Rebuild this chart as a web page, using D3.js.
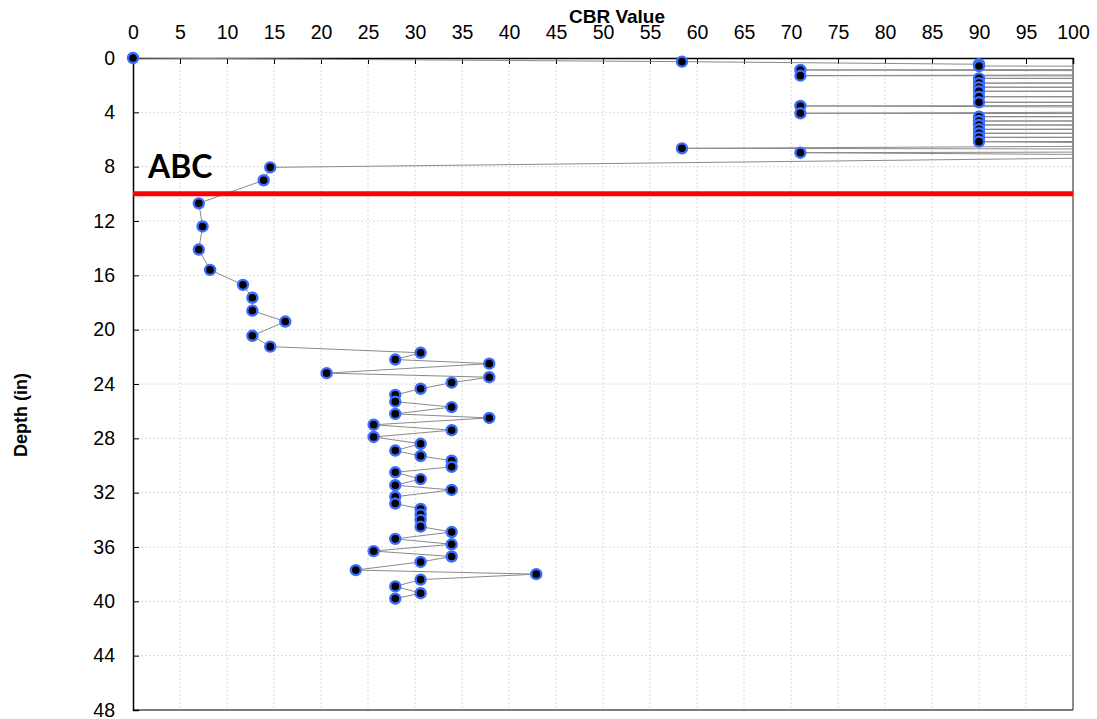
<!DOCTYPE html>
<html><head><meta charset="utf-8">
<script src="https://cdn.jsdelivr.net/npm/d3@7"></script>
<style>body{margin:0;background:#fff;} svg{display:block;}</style>
</head><body><svg id="c" width="1097" height="719"></svg>
<script>
// Depth (in) of each reading, in test order
const depthIn = [
  0, 0.27, 0.46, 0.59, 0.74, 0.88, 1.09, 1.30, 1.40, 1.50, 1.68, 1.85, 2.00, 2.15, 2.30, 2.45,
  2.65, 2.85, 3.05, 3.26, 3.40, 3.53, 3.80, 4.07, 4.20, 4.32, 4.48, 4.64, 4.78, 4.93, 5.10, 5.25,
  5.40, 5.54, 5.70, 5.84, 6.00, 6.16, 6.40, 6.65, 6.80, 6.97, 7.20, 8.05, 9.0, 10.7, 12.4, 14.1,
  15.6, 16.7, 17.65, 18.6, 19.4, 20.45, 21.25, 21.7, 22.2, 22.5, 23.2, 23.5, 23.9, 24.35, 24.8, 25.3,
  25.7, 26.2, 26.5, 27.0, 27.4, 27.9, 28.4, 28.9, 29.3, 29.65, 30.1, 30.5, 31.0, 31.45, 31.8, 32.3,
  32.8, 33.2, 33.6, 34.0, 34.5, 34.9, 35.4, 35.8, 36.3, 36.7, 37.1, 37.7, 38.0, 38.4, 38.9, 39.4, 39.8
];
// CBR value of each reading (values above 100 run off the chart)
const cbrValue = [
  0, 58.4, 90, 90, 210, 71, 190, 71, 240, 90, 220, 90, 260, 90, 200, 90,
  250, 90, 230, 90, 210, 71, 180, 71, 240, 90, 220, 90, 260, 90, 200, 90,
  250, 90, 230, 90, 210, 90, 130, 58.4, 190, 71, 123, 14.6, 13.9, 7.0, 7.4, 7.0,
  8.2, 11.7, 12.7, 12.7, 16.2, 12.7, 14.6, 30.6, 27.9, 37.9, 20.6, 37.9, 33.9, 30.6, 27.9, 27.9,
  33.9, 27.9, 37.9, 25.6, 33.9, 25.6, 30.6, 27.9, 30.6, 33.9, 33.9, 27.9, 30.6, 27.9, 33.9, 27.9,
  27.9, 30.6, 30.6, 30.6, 30.6, 33.9, 27.9, 33.9, 25.6, 33.9, 30.6, 23.7, 42.9, 30.6, 27.9, 30.6, 27.9
];
const xTickValues = [0,5,10,15,20,25,30,35,40,45,50,55,60,65,70,75,80,85,90,95,100];
const yTickValues = [0,4,8,12,16,20,24,28,32,36,40,44,48];
const xTitle = "CBR Value";
const yTitle = "Depth (in)";
const layerDepth = [10];
const layerLabel = "ABC";

const svg = d3.select("#c");
const m = {left:133, top:58, right:24, bottom:9};
const W = 1097 - m.left - m.right, H = 719 - m.top - m.bottom;
const x = d3.scaleLinear().domain([0,100]).range([0,W]);
const y = d3.scaleLinear().domain([0,48]).range([0,H]);
const g = svg.append("g").attr("transform",`translate(${m.left},${m.top})`);

svg.append("defs").append("clipPath").attr("id","plot")
  .append("rect").attr("x",0).attr("y",0).attr("width",W).attr("height",H);

// grid
g.append("g").selectAll("line").data(xTickValues.slice(1,-1)).join("line")
  .attr("x1",d=>x(d)).attr("x2",d=>x(d)).attr("y1",0).attr("y2",H)
  .attr("stroke","#dadada").attr("stroke-width",1).attr("stroke-dasharray","2,2");
g.append("g").selectAll("line").data(yTickValues.slice(1,-1)).join("line")
  .attr("y1",d=>y(d)).attr("y2",d=>y(d)).attr("x1",0).attr("x2",W)
  .attr("stroke","#dadada").attr("stroke-width",1).attr("stroke-dasharray","2,2");

// frame
g.append("line").attr("x1",W).attr("x2",W).attr("y1",0).attr("y2",H).attr("stroke","#404040").attr("stroke-width",1.2);
g.append("line").attr("x1",0).attr("x2",W).attr("y1",H).attr("y2",H).attr("stroke","#505050").attr("stroke-width",1.5);

// axes
const xAxis = g.append("g").call(d3.axisTop(x).tickValues(xTickValues).tickSize(-6).tickPadding(19).tickFormat(d3.format("d")));
const yAxis = g.append("g").call(d3.axisLeft(y).tickValues(yTickValues).tickSize(-6).tickPadding(18).tickFormat(d3.format("d")));
[xAxis,yAxis].forEach(a=>{
  a.select(".domain").attr("stroke","#000").attr("stroke-width",1.5);
  a.selectAll(".tick line").attr("stroke","#000").attr("stroke-width",1);
  a.selectAll(".tick text").attr("font-family","'Liberation Sans', Arial, sans-serif").attr("font-size",19.5).attr("fill","#000");
});

const data = depthIn.map((d,i)=>({d, v:cbrValue[i]}));

// data line
g.append("path").datum(data).attr("clip-path","url(#plot)")
  .attr("d", d3.line().x(p=>x(p.v)).y(p=>y(p.d)))
  .attr("fill","none").attr("stroke","#8a8a8a").attr("stroke-width",1);

// layer boundary
g.selectAll(".layer").data(layerDepth).join("line").attr("class","layer")
  .attr("x1",0).attr("x2",W).attr("y1",d=>y(d)).attr("y2",d=>y(d))
  .attr("stroke","#ff0000").attr("stroke-width",5);

// markers
g.append("g").selectAll("circle").data(data.filter(p=>p.v<=100)).join("circle")
  .attr("cx",p=>x(p.v)).attr("cy",p=>y(p.d)).attr("r",5)
  .attr("fill","#000").attr("stroke","#3a6cff").attr("stroke-width",2.4);

// label
g.append("text").attr("x",15).attr("y",y(layerDepth[0])-16).text(layerLabel)
  .attr("font-family","Lato, 'Open Sans', sans-serif").attr("font-weight","bold").attr("font-size",32).attr("fill","#000");

// titles
svg.append("text").attr("x",617).attr("y",23).attr("text-anchor","middle").text(xTitle)
  .attr("font-family","'Liberation Sans', Arial, sans-serif").attr("font-weight","bold").attr("font-size",19);
svg.append("text").attr("transform","translate(27,415) rotate(-90)").attr("text-anchor","middle").text(yTitle)
  .attr("font-family","'Liberation Sans', Arial, sans-serif").attr("font-weight","bold").attr("font-size",18);
</script></body></html>
